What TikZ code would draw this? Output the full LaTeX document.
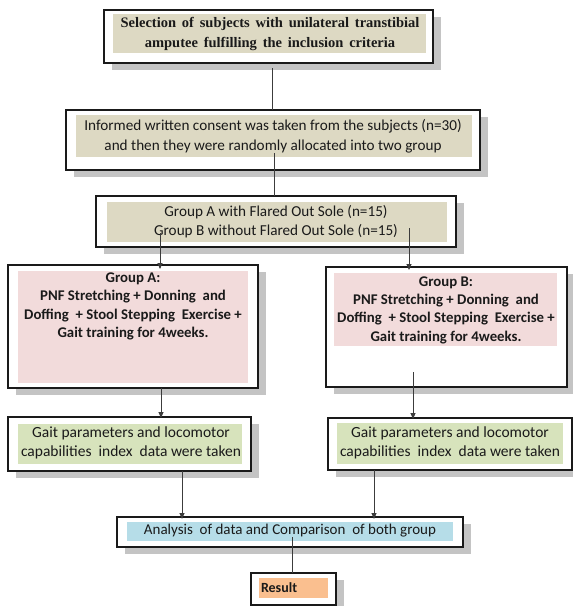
\documentclass[tikz,border=0pt]{standalone}
\usepackage{fontspec}
\setmainfont{Carlito}
\newfontfamily\serifb{Liberation Serif}[WordSpace={1.6,0.5,0.3}]
\usetikzlibrary{shadows,arrows.meta}
\definecolor{tan}{HTML}{DDD9C3}
\definecolor{pinkf}{HTML}{F2DBDB}
\definecolor{greenf}{HTML}{D7E3BC}
\definecolor{bluef}{HTML}{B6DDE8}
\definecolor{orangef}{HTML}{FABF8F}
\definecolor{shadowc}{HTML}{C4C4C4}
\definecolor{inkc}{HTML}{1A1A1A}
\tikzset{
  outerbox/.style={draw=inkc, line width=1.3pt, fill=white, inner sep=0pt, outer sep=0pt,
    drop shadow={shadow xshift=8pt, shadow yshift=-7pt, fill=shadowc, opacity=1}},
  innerfill/.style={inner sep=0pt, outer sep=0pt, draw=none},
  txt/.style={inner sep=0pt, outer sep=0pt, align=center, text=inkc},
  link/.style={draw=inkc!85, line width=0.9pt},
  arrowlink/.style={link, -{Triangle[length=6pt,width=5pt]}}
}
\begin{document}
\begin{tikzpicture}[x=1pt,y=-1pt]
\useasboundingbox[fill=white] (0,0) rectangle (573,606);
% Box 1
\node[outerbox, minimum width=329pt, minimum height=53pt] (b1) at (268.5,36.5) {};
\node[innerfill, fill=tan, minimum width=313pt, minimum height=39pt] (b1f) at (269.5,33.5) {};
\node[txt, font=\serifb\bfseries\fontsize{14.5}{19.5}\selectfont] (b1t) at (270,34)
  {Selection of subjects with unilateral transtibial\\amputee fulfilling the inclusion criteria};
% Box 2
\node[outerbox, minimum width=414pt, minimum height=60pt] (b2) at (273,140) {};
\node[innerfill, fill=tan, minimum width=396pt, minimum height=42pt] (b2f) at (274,136) {};
\node[txt, font=\fontsize{15.2}{20}\selectfont] (b2t) at (273,136)
  {Informed written consent was taken from the subjects (n=30)\\and then they were randomly allocated into two group};
% Box 3
\node[outerbox, minimum width=360pt, minimum height=51pt] (b3) at (276,221.5) {};
\node[innerfill, fill=tan, minimum width=340pt, minimum height=40pt] (b3f) at (277,222) {};
\node[txt, font=\fontsize{15.2}{19}\selectfont] (b3t) at (276,221.5)
  {Group A with Flared Out Sole (n=15)\\Group B without Flared Out Sole (n=15)};
% Group A
\node[outerbox, minimum width=250pt, minimum height=123pt] (ga) at (133,326.5) {};
\node[innerfill, fill=pinkf, minimum width=230pt, minimum height=112pt] (gaf) at (133,327) {};
\node[txt, font=\bfseries\fontsize{14.8}{18.3}\selectfont] (gat) at (133,306.5)
  {Group A:\\PNF Stretching + Donning\ \ and\\Doffing\ \ + Stool Stepping\ \ Exercise +\\Gait training for 4weeks.};
% Group B
\node[outerbox, minimum width=241pt, minimum height=120pt] (gb) at (446.5,327) {};
\node[innerfill, fill=pinkf, minimum width=223pt, minimum height=73pt] (gbf) at (445.5,309.5) {};
\node[txt, font=\bfseries\fontsize{14.8}{18.3}\selectfont] (gbt) at (446,310)
  {Group B:\\PNF Stretching + Donning\ \ and\\Doffing\ \ + Stool Stepping\ \ Exercise +\\Gait training for 4weeks.};
% Gait A
\node[outerbox, minimum width=243pt, minimum height=54pt] (ma) at (129.5,444) {};
\node[innerfill, fill=greenf, minimum width=224pt, minimum height=40pt] (maf) at (130,444) {};
\node[txt, font=\fontsize{15.5}{19}\selectfont] (mat) at (131,442.5)
  {Gait parameters and locomotor\\capabilities\ \ index\ \ data were taken};
% Gait B
\node[outerbox, minimum width=244pt, minimum height=52pt] (mb) at (450,444) {};
\node[innerfill, fill=greenf, minimum width=226pt, minimum height=41pt] (mbf) at (450,443.5) {};
\node[txt, font=\fontsize{15.5}{19}\selectfont] (mbt) at (450,442.5)
  {Gait parameters and locomotor\\capabilities\ \ index\ \ data were taken};
% Analysis
\node[outerbox, minimum width=346pt, minimum height=30pt] (an) at (290,532) {};
\node[innerfill, fill=bluef, minimum width=326pt, minimum height=19pt] (anf) at (290,531.5) {};
\node[txt, font=\fontsize{15}{16}\selectfont] (ant) at (290,531)
  {Analysis\ \ of data and Comparison\ \ of both group};
% Result
\node[outerbox, minimum width=85pt, minimum height=32pt] (re) at (293.5,589) {};
\node[innerfill, fill=orangef, minimum width=69pt, minimum height=20pt] (ref) at (293.5,588) {};
\node[txt, font=\bfseries\fontsize{14}{16}\selectfont, anchor=west] (ret) at (261,588) {Result};
% connectors
\draw[link] (b1.south -| 272,0) ++(0,5) -- (b2.north -| 272,0);
\draw[link] (b2.south -| 274,0) ++(0,-17) -- (b3.north -| 274,0);
\draw[arrowlink] (b3.south -| 160,0) ++(0,-14) -- ([yshift=-4pt]ga.north -| 160,0);
\draw[arrowlink] (b3.south -| 409,0) ++(0,-19) -- ([yshift=-3pt]gb.north -| 409,0);
\draw[arrowlink] (ga.south -| 161,0) -- ([yshift=-1pt]ma.north -| 161,0);
\draw[arrowlink] (gb.south -| 413,0) ++(0,-15) -- ([yshift=-1pt]mb.north -| 413,0);
\draw[arrowlink] (ma.south -| 182,0) -- ([yshift=-2pt]an.north -| 182,0);
\draw[arrowlink] (mb.south -| 374,0) -- ([yshift=-2pt]an.north -| 374,0);
\draw[link] (an.south -| 292,0) ++(0,-10) -- (re.north -| 292,0);
\end{tikzpicture}
\end{document}
